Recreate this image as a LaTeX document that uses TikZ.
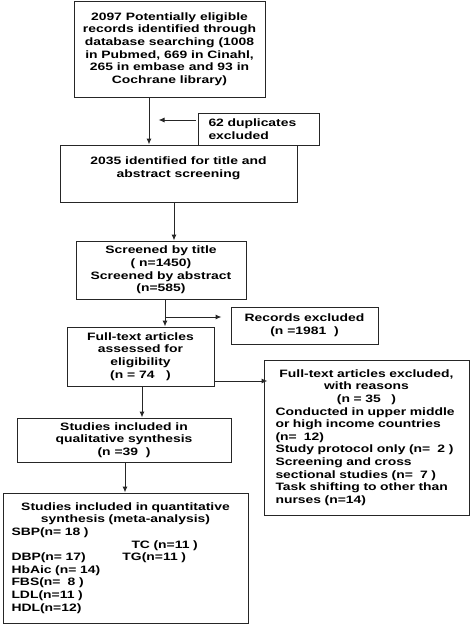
\documentclass[tikz,border=0pt]{standalone}
\usepackage{fontspec}
\setmainfont{Liberation Sans}[FakeStretch=1.3]
\usetikzlibrary{arrows.meta, calc}

\begin{document}
\begin{tikzpicture}[x=1pt, y=-1pt, >={Latex[length=6pt,width=5pt]},
        scatola/.style={draw=black!85, line width=1pt, inner sep=0pt,
            font=\bfseries\fontsize{10.7}{12.6}\selectfont},
        freccia/.style={->, draw=black!85, line width=1pt}]
        % Area del disegno (pixel del riferimento)
        \useasboundingbox[fill=white] (0,0) rectangle (474,624);
        
        % Identificazione
        \node[scatola, align=center, minimum width=191pt, minimum height=96pt] (ricerca) at (169.5,49)
        {2097 Potentially eligible\\ records identified through\\ database searching (1008\\
         in Pubmed, 669 in Cinahl,\\ 265 in embase and 93 in\\ Cochrane library)};
        
        \node[scatola, align=left, text width=100pt, minimum width=121pt, minimum height=32pt] (duplicati) at (258.5,129)
        {62 duplicates\\ excluded};
        
        % Screening
        \node[scatola, align=center, minimum width=237pt, minimum height=57pt] (screening) at (178.5,173.5)
        {2035 identified for title and\\ abstract screening\\ \mbox{}};
        
        \node[scatola, align=center, minimum width=170pt, minimum height=58pt] (titolo) at (161,270)
        {Screened by title\\ ( n=1450)\\ Screened by abstract\\ (n=585)};
        
        \node[scatola, align=center, minimum width=147pt, minimum height=37pt] (esclusi) at (304.5,325.5)
        {Records excluded\\ (n =1981\ \ )};
        
        % Eleggibilita'
        \node[scatola, align=center, minimum width=147pt, minimum height=59pt] (testo) at (140.5,356.5)
        {Full-text articles\\ assessed for\\ eligibility\\ (n = 74\ \ \ )};
        
        \node[scatola, align=left, text width=182pt, minimum width=205pt, minimum height=155pt] (motivi) at (366.5,437.5)
        {{\centering Full-text articles excluded,\\ with reasons\\ (n = 35\ \ \ )\par}
         Conducted in upper middle\\ or high income countries\\ (n=\ \ 12)\\
         Study protocol only (n=\ \ 2 )\\ Screening and cross\\ sectional studies (n=\ \ 7 )\\
         Task shifting to other than\\ nurses (n=14)};
        
        % Inclusi
        \node[scatola, align=center, minimum width=214pt, minimum height=44pt] (qualitativa) at (124,440)
        {Studies included in\\ qualitative synthesis\\ (n =39\ \ )};
        
        \node[scatola, align=left, text width=228pt, minimum width=245pt, minimum height=130pt] (quantitativa) at (125.5,558)
        {{\centering Studies included in quantitative\\ synthesis (meta-analysis)\par}
         SBP(n= 18 )\\
         \hspace*{120pt}TC\ (n=11 )\\
         \makebox[111pt][l]{DBP(n= 17)}TG(n=11 )\\
         HbAic (n= 14)\\ FBS(n=\ \ 8 )\\ LDL(n=11 )\\ HDL(n=12)};
        
        % Frecce del percorso principale
        \draw[freccia] ([xshift=-20.5pt]ricerca.south) -- ([xshift=-20.5pt]ricerca.south |- screening.north);
        \draw[freccia] ([xshift=-2pt,yshift=9pt]duplicati.west) -- ++(-37,0);
        \draw[freccia] ([xshift=-4.5pt]screening.south) -- ([xshift=-4.5pt]screening.south |- titolo.north);
        \draw[freccia] ([xshift=4pt]titolo.south) -- ([xshift=4pt]titolo.south |- testo.north);
        \coordinate (ramo) at (165,317);
        \draw[freccia, shorten >=9pt] (ramo) -- (ramo -| esclusi.west);
        \draw[freccia, shorten >=-4pt] ([yshift=-24.5pt]testo.east) -- ([yshift=-24.5pt]testo.east -| motivi.west);
        \draw[freccia] ([xshift=1.5pt]testo.south) -- ([xshift=1.5pt]testo.south |- qualitativa.north);
        \draw[freccia] ([xshift=1pt]qualitativa.south) -- ([xshift=1pt]qualitativa.south |- quantitativa.north);
        
    \end{tikzpicture}
\end{document}
